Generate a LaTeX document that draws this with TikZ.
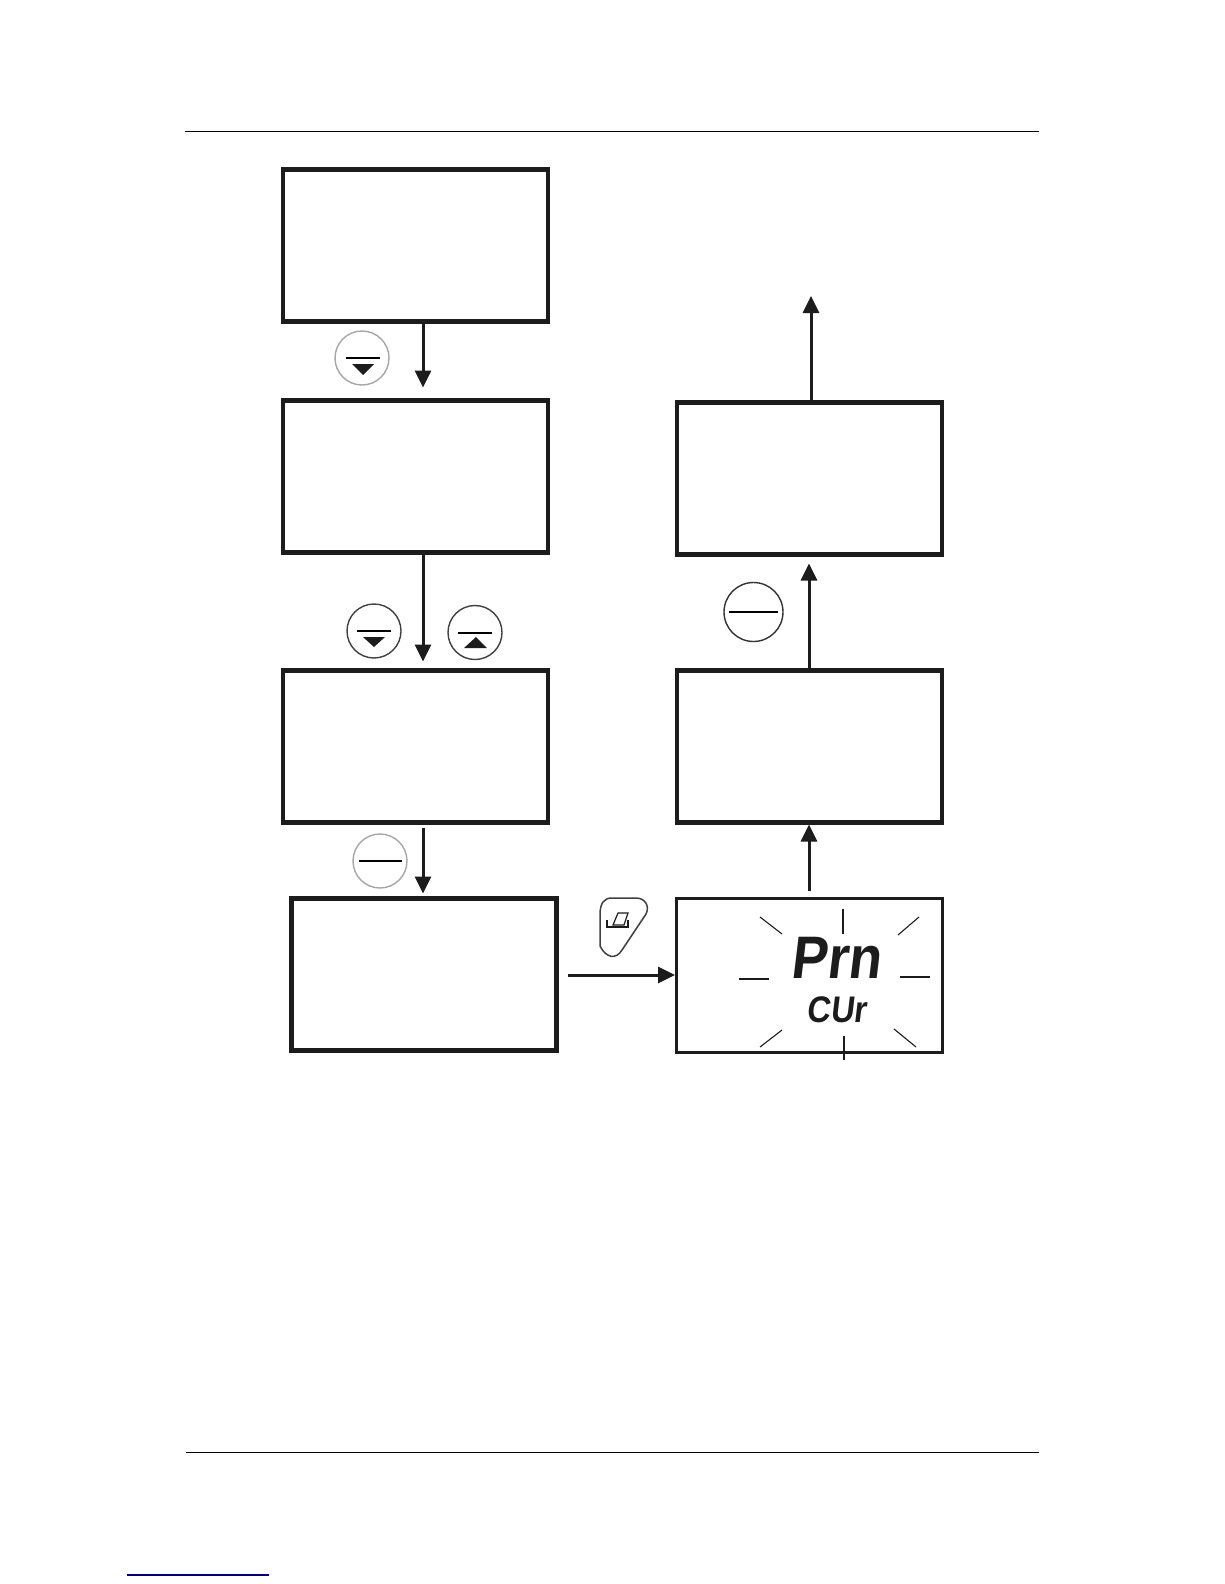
\documentclass[tikz,border=0pt]{standalone}
\usepackage{fontspec}
\setmainfont{Liberation Sans}
\usetikzlibrary{arrows.meta}
\definecolor{ink}{HTML}{1C1C1C}
\tikzset{
  x=1pt,y=-1pt,
  flowbox/.style={draw=ink,line width=4.2pt,minimum width=265pt,minimum height=152pt,inner sep=0pt,outer sep=0pt,fill=white},
  dispbox/.style={draw=ink,line width=2.8pt,minimum width=266pt,minimum height=154pt,inner sep=0pt,outer sep=0pt,fill=white},
  flowarr/.style={draw=ink,line width=3pt,-{Triangle[length=17pt,width=16pt]}},
  btn/.style={circle,draw=#1,line width=1.4pt,minimum size=54pt,inner sep=0pt},
  bar/.style={draw=black,line width=2.2pt},
  tri/.style={fill=ink,draw=none},
  ray/.style={draw=ink,line width=1.1pt},
  rule/.style={draw=black,line width=1.1pt},
  lcd/.style={inner sep=0pt,text=ink},
}
\begin{document}
\begin{tikzpicture}
\useasboundingbox (0,0) rectangle (1224,1584);
\fill[white] (0,0) rectangle (1224,1584);
% page rules
\draw[rule] (185,131.5) -- (1039,131.5);
\draw[rule] (186,1452.5) -- (1039,1452.5);
\draw[draw=blue!45!black,line width=1.1pt] (127,1575) -- (269,1575);
% boxes
\node[flowbox] (b1) at (415.5,245.5) {};
\node[flowbox] (b2) at (415.5,476.5) {};
\node[flowbox] (b3) at (415.5,746.5) {};
\node[flowbox] (b4) at (424,974.5) {};
\node[dispbox] (b5) at (809.5,975.5) {};
\node[flowbox] (b6) at (809.5,746.5) {};
\node[flowbox] (b7) at (809.5,478.5) {};
\coordinate (top) at (811,296);
% connectors
\draw[flowarr,shorten >=13pt] ([xshift=7.5pt]b1.south) -- ([xshift=7.5pt]b2.north);
\draw[flowarr,shorten >=9pt] ([xshift=7.5pt]b2.south) -- ([xshift=7.5pt]b3.north);
\draw[flowarr,shorten <=5pt,shorten >=5pt] ([xshift=7.5pt]b3.south) -- ([xshift=-1pt]b4.north);
\draw[flowarr,shorten <=11pt,shorten >=1.5pt] ([yshift=-0.5pt]b4.east) -- ([yshift=0.5pt]b5.west);
\draw[flowarr,shorten <=8pt,shorten >=2pt] (b5.north -| 809,0) -- (b6.south -| 809,0);
\draw[flowarr,shorten <=2pt,shorten >=9pt] (b6.north -| 809,0) -- (b7.south -| 809,0);
\draw[flowarr] (b7.north -| top) -- (top);
% display
\node[lcd,font=\bfseries\fontsize{60}{60}\selectfont,xslant=0.12,xscale=0.9] (prn) at (838,958) {Prn};
\node[lcd,font=\bfseries\fontsize{37}{37}\selectfont,xslant=0.12,xscale=0.88] (cur) at (838,1010) {CUr};
\draw[ray] (760,917) -- (782,934);
\draw[ray] (843,909) -- (843,934);
\draw[ray] (919,917) -- (898,935);
\draw[ray] (739,979) -- (769,979);
\draw[ray] (900,977) -- (930,977);
\draw[ray] (782,1030) -- (760,1047);
\draw[ray] (844,1036) -- (844,1060);
\draw[ray] (894,1029) -- (916,1047);
% buttons
\node[btn=black!35] (k1) at (362,358) {};
\draw[bar] (346,358) -- (380,358);
\fill[tri] (352,364) -- (374,364) -- (363,375) -- cycle;
\node[btn=black!75] (k2) at (374,631) {};
\draw[bar] (357,631) -- (391,631);
\fill[tri] (363,637) -- (385,637) -- (374,647) -- cycle;
\node[btn=black!75] (k3) at (475,632.5) {};
\draw[bar] (458,633) -- (492,633);
\fill[tri] (464,648) -- (487,648) -- (476,637) -- cycle;
\node[btn=black!35] (k4) at (380,861) {};
\draw[bar] (359,861) -- (402,861);
\node[btn=black!80,minimum size=59pt] (k5) at (753.5,612) {};
\draw[bar] (729,612) -- (778,612);
% print key
\draw[draw=black!75,line width=1.5pt] (600,915) .. controls (600,903) and (604,898) .. (612,898) -- (636,898) .. controls (645,898) and (650,906) .. (646,914) -- (622,950) .. controls (616,960) and (606,958) .. (600,946) -- cycle;
\draw[draw=ink,line width=1.4pt] (607,920) -- (607,927) -- (628,927) -- (628,920);
\draw[draw=ink,line width=1.2pt] (618,913) -- (628,913) -- (624,925) -- (613,925) -- cycle;
\end{tikzpicture}
\end{document}
